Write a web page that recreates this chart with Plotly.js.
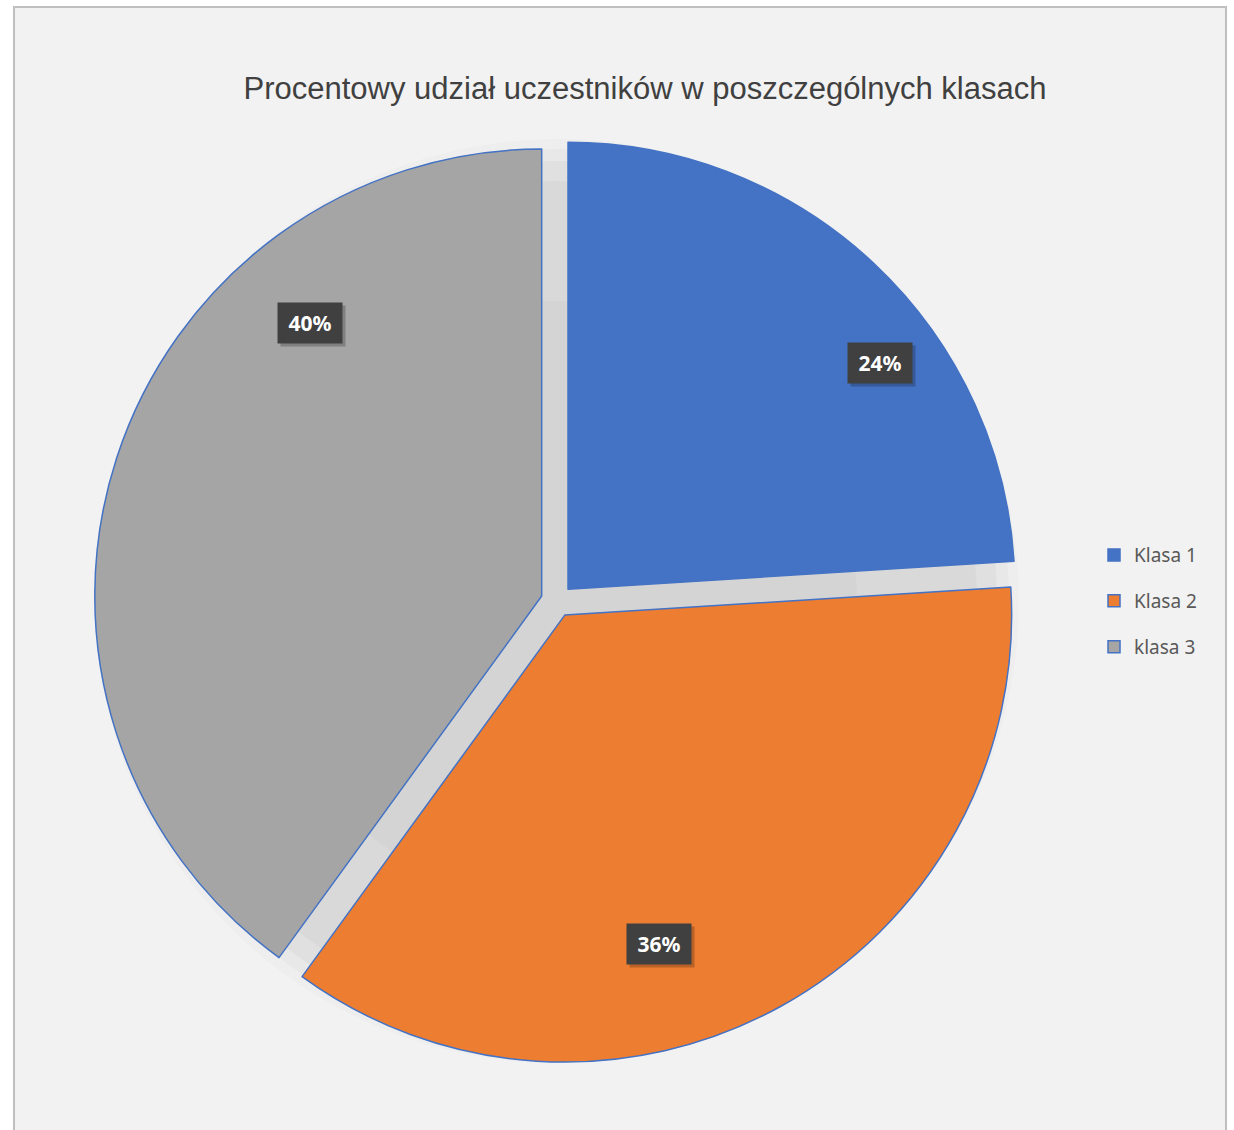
<!DOCTYPE html>
<html>
<head>
<meta charset="utf-8">
<script src="https://cdn.plot.ly/plotly-3.0.1.min.js"></script>
<style>html,body{margin:0;padding:0;background:#fff;}#chart{width:1234px;height:1130px;}</style>
</head>
<body>
<div id="chart"></div>
<script>
// ---- data ----
const categories = ["Klasa 1", "Klasa 2", "klasa 3"];
const values = [24, 36, 40];
const sliceColors = ["#4472C4", "#ED7D31", "#A5A5A5"];
const chartTitle = "Procentowy udział uczestników w poszczególnych klasach";

// label box positions (paper coords), one per slice
const labelPos = [[0.7131, 0.6788], [0.5340, 0.1646], [0.2512, 0.7142]];

const total = values.reduce((a, b) => a + b, 0);

// soft shadow behind the exploded slices: stacked discs fading outward
const W = 1234, H = 1130, CX = 557, CY = 601;
const shadowRings = [[462, "#EEEEEE"], [452, "#E8E8E8"], [440, "#E0E0E0"], [420, "#D9D9D9"], [300, "#D4D4D4"]];
const shadowTraces = shadowRings.map(([r, col]) => ({
  type: "pie",
  labels: ["shadow"],
  values: [total],
  sort: false,
  showlegend: false,
  marker: { colors: [col], line: { width: 0 } },
  textinfo: "none",
  hoverinfo: "skip",
  domain: { x: [(CX - r) / W, (CX + r) / W], y: [1 - (CY + r) / H, 1 - (CY - r) / H] }
}));

const trace = {
  type: "pie",
  labels: categories.map(c => '<span style="font-size:19px;baseline-shift:6px">' + c + '</span>'),
  values: values,
  sort: false,
  direction: "clockwise",
  rotation: 0,
  pull: values.map(() => 0.036),
  marker: { colors: sliceColors, line: { color: "#4472C4", width: 1.5 } },
  textinfo: "none",
  hoverinfo: "label+percent",
  domain: { x: [94 / W, 1020 / W], y: [1 - 1064 / H, 1 - 138 / H] }
};

const labelShadows = values.map((v, i) => ({
  xref: "paper", yref: "paper",
  x: labelPos[i][0], y: labelPos[i][1],
  xanchor: "center", yanchor: "middle",
  xshift: 3, yshift: -3,
  text: " ",
  showarrow: false,
  bgcolor: "rgba(0,0,0,0.22)",
  width: 62, height: 38, borderpad: 1
}));

const labels = values.map((v, i) => ({
  xref: "paper", yref: "paper",
  x: labelPos[i][0], y: labelPos[i][1],
  xanchor: "center", yanchor: "middle",
  text: "<b>" + Math.round(v / total * 100) + "%</b>",
  showarrow: false,
  font: { family: "Noto Sans, sans-serif", size: 21, color: "#ffffff" },
  bgcolor: "#404040",
  width: 62, height: 38, borderpad: 1
}));

const layout = {
  width: W, height: H,
  margin: { l: 0, r: 0, t: 0, b: 0 },
  paper_bgcolor: "#ffffff",
  showlegend: true,
  title: {
    text: chartTitle,
    x: 645 / W, xanchor: "center",
    y: 1 - 88 / H, yanchor: "middle",
    font: { family: "Liberation Sans Narrow, sans-serif", size: 31, color: "#404040" }
  },
  legend: {
    x: 1094 / W, xanchor: "left",
    y: 1 - 601 / H, yanchor: "middle",
    font: { family: "Noto Sans, sans-serif", size: 33, color: "#595959" },
    bgcolor: "rgba(0,0,0,0)"
  },
  shapes: [{
    type: "rect", layer: "below",
    xref: "paper", yref: "paper",
    x0: 14 / W, x1: 1226 / W, y0: -0.05, y1: 1 - 7 / H,
    fillcolor: "#F2F2F2", line: { color: "#BFBFBF", width: 2 }
  }],
  annotations: labelShadows.concat(labels)
};

Plotly.newPlot("chart", shadowTraces.concat([trace]), layout, { displayModeBar: false, staticPlot: true });
</script>
</body>
</html>
